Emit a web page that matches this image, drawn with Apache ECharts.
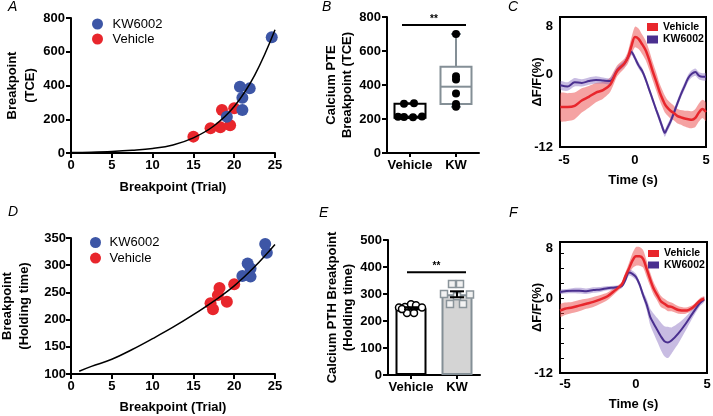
<!DOCTYPE html>
<html><head><meta charset="utf-8">
<script src="https://cdn.jsdelivr.net/npm/echarts@6/dist/echarts.min.js"></script>
<style>html,body{margin:0;padding:0;background:#fff}#c{width:713px;height:416px}</style>
</head><body><div id="c"></div>
<script>
// ---------- DATA ----------
// Panel A
const aKwX = [24.6, 20.7, 21.9, 21.0, 21.0, 19.1];
const aKwY = [686, 393, 383, 328, 255, 215];
const aVehX = [15.0, 17.1, 18.3, 19.5, 18.5, 20.0];
const aVehY = [97, 146, 152, 164, 255, 265];
const aFitX = [0, 2.5, 5, 7.5, 10, 12.5, 15, 17.5, 20, 22.5, 25];
const aFitY = [3, 5, 9, 16, 27, 48, 90, 160, 275, 460, 730];
// Panel B
const bCats = ['Vehicle', 'KW'];
const bVeh = [213, 212, 211, 214, 290, 292];
const bKw = [700, 452, 433, 350, 288, 272];
const bVehBox = [206, 208, 214, 290, 292];
const bKwBox = [272, 288, 390, 508, 700];
const bSig = 753;
// Panel C
const cTime = [-5.25,-4.75,-4.25,-3.75,-3.25,-2.75,-2.25,-1.75,-1.25,-0.75,-0.5,-0.25,0,0.25,0.5,0.75,1,1.25,1.5,1.75,2,2.1,2.25,2.5,2.75,3,3.25,3.5,3.75,4,4.25,4.5,4.75,5];
const cVeh = [-5.4,-5.4,-5.2,-4.3,-3.7,-3.0,-2.6,-1.7,0.6,1.8,2.8,4.7,6.2,5.9,5.0,4.0,2.4,0.5,-1.2,-3.0,-4.4,-4.9,-5.4,-6.0,-6.4,-6.9,-7.1,-7.3,-7.4,-7.5,-7.2,-6.3,-5.7,-6.2];
const cVehErr = [2.3,2.3,2.2,2.0,1.8,1.6,1.4,1.2,0.9,0.8,1.0,1.4,1.7,1.7,1.6,1.6,1.6,1.5,1.5,1.4,1.4,1.4,1.3,1.3,1.2,1.2,1.2,1.3,1.4,1.4,1.5,1.5,1.5,1.5];
const cKw = [-1.8,-2.0,-1.3,-1.4,-1.1,-0.9,-1.0,-1.1,0.7,1.8,2.8,3.7,2.7,1.5,0.6,-0.8,-2.5,-4.2,-5.9,-7.5,-9.2,-9.7,-9.0,-7.8,-6.3,-4.7,-3.2,-1.9,-0.6,0.1,0.4,-0.2,-0.4,-0.4];
const cKwErr = [0.7,0.7,0.7,0.6,0.6,0.6,0.5,0.5,0.5,0.5,0.5,0.5,0.5,0.5,0.5,0.5,0.5,0.5,0.5,0.6,0.6,0.6,0.6,0.6,0.6,0.6,0.6,0.6,0.6,0.6,0.6,0.6,0.6,0.6];
// Panel D
const dKwX = [23.8, 24.0, 21.65, 22.0, 21.0, 22.0];
const dKwY = [339, 323, 303, 294, 280, 279];
const dVehX = [18.2, 20.0, 17.1, 19.1, 17.4, 18.0];
const dVehY = [258, 265, 230, 233, 219, 245];
const dFitX = [1, 2.5, 5, 7.5, 10, 12.5, 15, 17.5, 20, 22.5, 25];
const dFitY = [105, 114, 127, 145, 165, 186, 209, 234, 262, 297, 338];
// Panel E
const eCats = ['Vehicle', 'KW'];
const eVeh = [250, 252, 262, 258, 250, 230, 230, 244];
const eKw = [337, 337, 300, 298, 292, 263, 263];
const eMean = [247, 299];
const eSem = [4, 11];
const eSig = 381;
// Panel F
const fTime = [-5.35,-5,-4.5,-4,-3.5,-3,-2.5,-2,-1.5,-1,-0.75,-0.5,-0.25,0,0.25,0.5,0.75,1,1.25,1.5,1.75,2,2.25,2.5,3,3.5,4,4.5,4.8];
const fVeh = [-2.0,-1.7,-1.5,-1.2,-0.9,-0.6,-0.2,0.3,1.2,2.2,3.5,4.7,6.0,6.7,6.7,6.3,4.7,3.0,1.5,0.5,-0.5,-0.9,-1.3,-1.4,-1.9,-2.0,-1.5,-0.4,-0.1];
const fVehErr = [1.0,1.0,0.9,0.9,0.8,0.8,0.7,0.6,0.5,0.4,0.6,0.9,1.2,1.5,1.5,1.4,1.3,1.1,1.0,0.9,0.9,0.8,0.8,0.7,0.6,0.5,0.4,0.4,0.4];
const fKw = [1.0,1.1,1.2,1.2,1.1,1.3,1.4,1.6,1.7,1.9,2.9,4.1,3.9,3.4,2.2,0.5,-1.0,-3.0,-4.1,-5.1,-6.1,-6.9,-7.1,-6.8,-5.6,-4.1,-2.4,-0.8,-0.2];
const fKwErr = [0.3,0.35,0.4,0.45,0.45,0.45,0.4,0.35,0.3,0.3,0.4,0.5,0.5,0.5,0.5,0.6,0.9,1.3,1.6,1.9,2.2,2.4,2.5,2.1,1.6,1.1,0.7,0.5,0.4];

// ---------- STYLE ----------
const blue = '#3d56a6', red = '#e8262c', purple = '#4a2f8f';
const redBand = 'rgba(236,70,70,0.5)', purpleBand = 'rgba(125,95,185,0.42)';
const font = 'Liberation Sans, Arial, Helvetica, sans-serif';
const bVehJit = [-12, -6, 3, 12, -6, 4];
const eVehJit = [-12, -6, 0, 5, 11, -4, 3, -9];
const eKwJit = [-5, 3, -13, 13, 0, -7, 6];
const boxColors = ['#000', '#848f96'];
const barFill = ['#ffffff', '#d4d4d4'];

function zip(x, y) { return x.map((v, i) => [v, y[i]]); }
function ax(o) {
  const base = {
    axisLine: {show: true, onZero: false, lineStyle: {color: '#000', width: 2}},
    axisTick: {show: true, length: 5, lineStyle: {color: '#000', width: 2}},
    axisLabel: {color: '#000', fontSize: 13, fontWeight: 'bold', fontFamily: font},
    splitLine: {show: false},
    nameTextStyle: {color: '#000', fontSize: 13, fontWeight: 'bold', fontFamily: font}
  };
  const r = Object.assign({}, base, o);
  ['axisLine', 'axisTick', 'axisLabel', 'nameTextStyle'].forEach(k => {
    if (o[k]) r[k] = Object.assign({}, base[k], o[k]);
  });
  return r;
}
function band(time, mean, err, idx, color) {
  return {type: 'custom', xAxisIndex: idx, yAxisIndex: idx, z: 1, silent: true, clip: true,
    data: [[time[0], mean[0]]],
    renderItem(params, api) {
      const up = time.map((t, i) => api.coord([t, mean[i] + err[i]]));
      const lo = time.map((t, i) => api.coord([t, mean[i] - err[i]])).reverse();
      return {type: 'polygon', shape: {points: up.concat(lo), smooth: 0.25}, style: {fill: color}};
    }};
}
function sigSeries(idx, val, extL, extR) {
  return {type: 'custom', xAxisIndex: idx, yAxisIndex: idx, z: 5, data: [[0, val]],
    renderItem(params, api) {
      const p0 = api.coord([0, api.value(1)]), p1 = api.coord([1, api.value(1)]);
      return {type: 'group', children: [
        {type: 'line', shape: {x1: p0[0] - extL, y1: p0[1], x2: p1[0] + extR, y2: p1[1]}, style: {stroke: '#000', lineWidth: 2}},
        {type: 'text', style: {text: '**', x: (p0[0] - extL + p1[0] + extR) / 2, y: p0[1] - 1, align: 'center', verticalAlign: 'bottom',
          font: 'bold 10px ' + font, fill: '#000'}}
      ]};
    }};
}

const legendText = {color: '#000', fontSize: 13, fontFamily: font, lineHeight: 13};
const legendTextC = {color: '#000', fontSize: 10.5, fontWeight: 'bold', fontFamily: font, lineHeight: 12};
const titleStyle = {fontSize: 14, fontStyle: 'italic', fontWeight: 'normal', color: '#000', fontFamily: font};

const option = {
  animation: false,
  backgroundColor: '#fff',
  title: [
    {text: 'A', left: 8, top: 0, padding: 0, textStyle: titleStyle},
    {text: 'B', left: 322, top: 0, padding: 0, textStyle: titleStyle},
    {text: 'C', left: 508, top: 0, padding: 0, textStyle: titleStyle},
    {text: 'D', left: 8, top: 205, padding: 0, textStyle: titleStyle},
    {text: 'E', left: 319, top: 206, padding: 0, textStyle: titleStyle},
    {text: 'F', left: 509, top: 206, padding: 0, textStyle: titleStyle}
  ],
  legend: [
    {left: 92, top: 17.5, orient: 'vertical', padding: 0, itemWidth: 20, itemHeight: 11, itemGap: 2, textStyle: legendText,
     selectedMode: false,
     data: [{name: 'KW6002', icon: 'circle', itemStyle: {color: blue}}, {name: 'Vehicle', icon: 'circle', itemStyle: {color: red}}]},
    {left: 90, top: 236, orient: 'vertical', padding: 0, itemWidth: 18, itemHeight: 11, itemGap: 2.6, textStyle: legendText,
     selectedMode: false,
     data: [{name: 'KW6002', icon: 'circle', itemStyle: {color: blue}}, {name: 'Vehicle', icon: 'circle', itemStyle: {color: red}}]},
    {left: 647, top: 21, orient: 'vertical', padding: 0, itemWidth: 11, itemHeight: 8, itemGap: 0.5, textStyle: legendTextC,
     selectedMode: false,
     data: [{name: 'Vehicle', icon: 'rect', itemStyle: {color: red}}, {name: 'KW6002', icon: 'rect', itemStyle: {color: purple}}]},
    {left: 648, top: 248, orient: 'vertical', padding: 0, itemWidth: 11, itemHeight: 7, itemGap: 0.5,
     textStyle: Object.assign({}, legendTextC, {lineHeight: 10}),
     selectedMode: false,
     data: [{name: 'Vehicle', icon: 'rect', itemStyle: {color: red}}, {name: 'KW6002', icon: 'rect', itemStyle: {color: purple}}]}
  ],
  grid: [
    {left: 71, top: 18, width: 204, height: 135, outerBoundsMode: 'none'},
    {left: 387, top: 17, width: 92, height: 136, outerBoundsMode: 'none'},
    {left: 560, top: 17, width: 146, height: 130, show: true, borderColor: '#000', borderWidth: 2, backgroundColor: 'transparent', outerBoundsMode: 'none'},
    {left: 71, top: 238, width: 204, height: 136, outerBoundsMode: 'none'},
    {left: 388, top: 240, width: 92, height: 135, outerBoundsMode: 'none'},
    {left: 560, top: 242, width: 147, height: 131, show: true, borderColor: '#000', borderWidth: 2, backgroundColor: 'transparent', outerBoundsMode: 'none'}
  ],
  xAxis: [
    ax({gridIndex: 0, type: 'value', min: 0, max: 25, interval: 5, name: 'Breakpoint (Trial)', nameLocation: 'middle', nameGap: 28,
        axisLabel: {margin: 6}}),
    ax({gridIndex: 1, type: 'category', data: bCats, axisTick: {alignWithLabel: true, length: 4}, axisLabel: {margin: 6, interval: 0}}),
    ax({gridIndex: 2, type: 'value', min: -5.28, max: 5, name: 'Time (s)', nameLocation: 'middle', nameGap: 27,
        axisLine: {show: false}, axisTick: {show: false}, axisLabel: {margin: 7, customValues: [-5, 0, 5]}}),
    ax({gridIndex: 3, type: 'value', min: 0, max: 25, interval: 5, name: 'Breakpoint (Trial)', nameLocation: 'middle', nameGap: 27,
        axisLabel: {margin: 6}}),
    ax({gridIndex: 4, type: 'category', data: eCats, axisTick: {alignWithLabel: true, length: 4}, axisLabel: {margin: 6, interval: 0}}),
    ax({gridIndex: 5, type: 'value', min: -5.35, max: 5, name: 'Time (s)', nameLocation: 'middle', nameGap: 25,
        axisLine: {show: false}, axisTick: {show: false}, axisLabel: {margin: 5, customValues: [-5, 0, 5]}})
  ],
  yAxis: [
    ax({gridIndex: 0, type: 'value', min: 0, max: 800, interval: 200, name: 'Breakpoint\n(TCE)', nameLocation: 'middle',
        nameRotate: 90, nameGap: 31, nameTextStyle: {lineHeight: 18}, axisLabel: {margin: 6}}),
    ax({gridIndex: 1, type: 'value', min: 0, max: 800, interval: 200, name: 'Calcium PTE\nBreakpoint (TCE)', nameLocation: 'middle',
        nameRotate: 90, nameGap: 32, nameTextStyle: {lineHeight: 16}, axisLabel: {margin: 6}}),
    ax({gridIndex: 2, type: 'value', min: -12, max: 9.5, name: 'ΔF/F(%)', nameLocation: 'middle', nameRotate: 90, nameGap: 16,
        nameMoveOverlap: false,
        axisLine: {show: false}, axisTick: {show: false}, axisLabel: {margin: 7, customValues: [-12, 0, 8]}}),
    ax({gridIndex: 3, type: 'value', min: 100, max: 350, interval: 50, name: 'Breakpoint\n(Holding time)', nameLocation: 'middle',
        nameRotate: 90, nameGap: 38.5, nameTextStyle: {lineHeight: 17}, axisLabel: {margin: 5}}),
    ax({gridIndex: 4, type: 'value', min: 0, max: 500, interval: 100, name: 'Calcium PTH Breakpoint\n(Holding time)', nameLocation: 'middle',
        nameRotate: 90, nameGap: 32, nameTextStyle: {lineHeight: 16}, axisLabel: {margin: 6}}),
    ax({gridIndex: 5, type: 'value', min: -12, max: 9, name: 'ΔF/F(%)', nameLocation: 'middle', nameRotate: 90, nameGap: 16,
        nameMoveOverlap: false,
        axisLine: {show: false},
        axisTick: {show: true, inside: true, length: 4, lineStyle: {color: '#000', width: 1}, customValues: [-9.6, -7.2, -4.8, -2.4, 0, 2.4, 4.8, 7.2]},
        axisLabel: {margin: 7, customValues: [-12, 0, 8]}})
  ],
  series: [
    // A
    {type: 'line', xAxisIndex: 0, yAxisIndex: 0, data: zip(aFitX, aFitY), smooth: 0.4, symbol: 'none',
     lineStyle: {color: '#000', width: 1.5}, z: 3, silent: true},
    {type: 'scatter', name: 'Vehicle', xAxisIndex: 0, yAxisIndex: 0, data: zip(aVehX, aVehY), symbolSize: 12,
     itemStyle: {color: red, opacity: 1}, z: 2},
    {type: 'scatter', name: 'KW6002', xAxisIndex: 0, yAxisIndex: 0, data: zip(aKwX, aKwY), symbolSize: 12,
     itemStyle: {color: blue, opacity: 1}, z: 2},
    // B
    {type: 'custom', xAxisIndex: 1, yAxisIndex: 1, z: 2, data: [[0].concat(bVehBox), [1].concat(bKwBox)],
     renderItem(params, api) {
       const i = api.value(0);
       const lo = api.coord([i, api.value(1)]), q1 = api.coord([i, api.value(2)]), md = api.coord([i, api.value(3)]),
             q3 = api.coord([i, api.value(4)]), hi = api.coord([i, api.value(5)]);
       const x = lo[0], hw = 15.5, cw = 5, col = boxColors[i];
       const st = {stroke: col, lineWidth: 2, fill: null};
       return {type: 'group', children: [
         {type: 'rect', shape: {x: x - hw, y: q3[1], width: 2 * hw, height: q1[1] - q3[1]}, style: {stroke: col, lineWidth: 2, fill: '#fff'}},
         {type: 'line', shape: {x1: x - hw, y1: md[1], x2: x + hw, y2: md[1]}, style: st},
         {type: 'line', shape: {x1: x, y1: q3[1], x2: x, y2: hi[1]}, style: st},
         {type: 'line', shape: {x1: x, y1: q1[1], x2: x, y2: lo[1]}, style: st},
         {type: 'line', shape: {x1: x - cw, y1: hi[1], x2: x + cw, y2: hi[1]}, style: st},
         {type: 'line', shape: {x1: x - cw, y1: lo[1], x2: x + cw, y2: lo[1]}, style: st}
       ]};
     }},
    {type: 'scatter', xAxisIndex: 1, yAxisIndex: 1, z: 3, symbolSize: 8, itemStyle: {color: '#000', opacity: 1},
     data: bVeh.map((v, i) => ({value: [bCats[0], v], symbolOffset: [bVehJit[i], 0]}))},
    {type: 'scatter', xAxisIndex: 1, yAxisIndex: 1, z: 3, symbolSize: 8, itemStyle: {color: '#000', opacity: 1},
     data: bKw.map(v => [bCats[1], v])},
    sigSeries(1, bSig, 8, 10),
    // C
    band(cTime, cVeh, cVehErr, 2, redBand),
    band(cTime, cKw, cKwErr, 2, purpleBand),
    {type: 'line', name: 'KW6002', xAxisIndex: 2, yAxisIndex: 2, data: zip(cTime, cKw), smooth: 0.3, symbol: 'none',
     lineStyle: {color: purple, width: 2}, itemStyle: {color: purple}, z: 3},
    {type: 'line', name: 'Vehicle', xAxisIndex: 2, yAxisIndex: 2, data: zip(cTime, cVeh), smooth: 0.3, symbol: 'none',
     lineStyle: {color: red, width: 2.5}, itemStyle: {color: red}, z: 4},
    // D
    {type: 'line', xAxisIndex: 3, yAxisIndex: 3, data: zip(dFitX, dFitY), smooth: 0.4, symbol: 'none',
     lineStyle: {color: '#000', width: 1.5}, z: 3, silent: true},
    {type: 'scatter', name: 'Vehicle', xAxisIndex: 3, yAxisIndex: 3, data: zip(dVehX, dVehY), symbolSize: 12,
     itemStyle: {color: red, opacity: 1}, z: 2},
    {type: 'scatter', name: 'KW6002', xAxisIndex: 3, yAxisIndex: 3, data: zip(dKwX, dKwY), symbolSize: 12,
     itemStyle: {color: blue, opacity: 1}, z: 2},
    // E
    {type: 'bar', xAxisIndex: 4, yAxisIndex: 4, barWidth: 31, z: 1,
     data: eMean.map((v, i) => ({value: v, itemStyle: {color: barFill[i], borderColor: boxColors[i], borderWidth: 2}}))},
    {type: 'scatter', xAxisIndex: 4, yAxisIndex: 4, z: 3, symbol: 'circle', symbolSize: 7,
     itemStyle: {color: '#fff', borderColor: '#000', borderWidth: 1.5, opacity: 1},
     data: eVeh.map((v, i) => ({value: [eCats[0], v], symbolOffset: [eVehJit[i], 0]}))},
    {type: 'scatter', xAxisIndex: 4, yAxisIndex: 4, z: 3, symbol: 'rect', symbolSize: 7,
     itemStyle: {color: '#f2f2f2', borderColor: '#8a949a', borderWidth: 1.5, opacity: 1},
     data: eKw.map((v, i) => ({value: [eCats[1], v], symbolOffset: [eKwJit[i], 0]}))},
    {type: 'custom', xAxisIndex: 4, yAxisIndex: 4, z: 4, data: eMean.map((v, i) => [i, v, eSem[i]]),
     renderItem(params, api) {
       const i = api.value(0);
       const top = api.coord([i, api.value(1) + api.value(2)]), bot = api.coord([i, api.value(1) - api.value(2)]);
       const x = top[0], cw = 7, col = '#000';
       const st = {stroke: col, lineWidth: 2};
       return {type: 'group', children: [
         {type: 'line', shape: {x1: x, y1: top[1], x2: x, y2: bot[1]}, style: st},
         {type: 'line', shape: {x1: x - cw, y1: top[1], x2: x + cw, y2: top[1]}, style: st},
         {type: 'line', shape: {x1: x - cw, y1: bot[1], x2: x + cw, y2: bot[1]}, style: st}
       ]};
     }},
    sigSeries(4, eSig, 4, 9),
    // F
    band(fTime, fVeh, fVehErr, 5, redBand),
    band(fTime, fKw, fKwErr, 5, purpleBand),
    {type: 'line', name: 'KW6002', xAxisIndex: 5, yAxisIndex: 5, data: zip(fTime, fKw), smooth: 0.3, symbol: 'none',
     lineStyle: {color: purple, width: 2}, itemStyle: {color: purple}, z: 3},
    {type: 'line', name: 'Vehicle', xAxisIndex: 5, yAxisIndex: 5, data: zip(fTime, fVeh), smooth: 0.3, symbol: 'none',
     lineStyle: {color: red, width: 2.5}, itemStyle: {color: red}, z: 4}
  ]
};
const chart = echarts.init(document.getElementById('c'), null, {renderer: 'canvas'});
chart.setOption(option);
</script>
</body></html>
